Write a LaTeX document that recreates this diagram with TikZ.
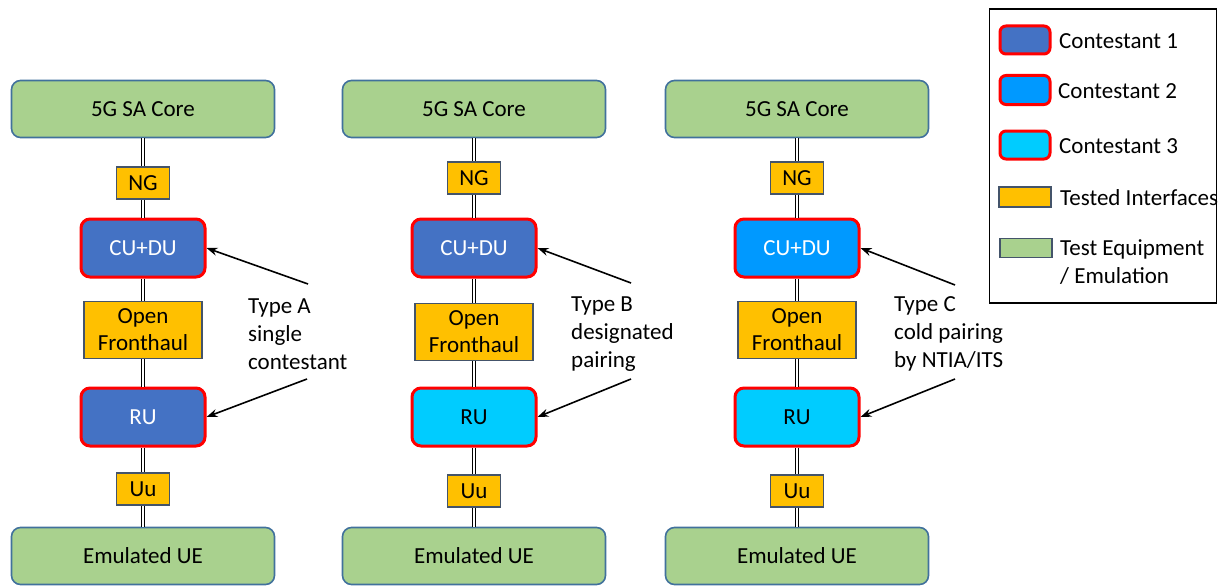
\documentclass[tikz,border=0pt]{standalone}
\usepackage{fontspec}
\setmainfont{Carlito}
\usetikzlibrary{arrows.meta}
\definecolor{eqgreen}{HTML}{A9D18E}
\definecolor{eqborder}{HTML}{41719C}
\definecolor{ifor}{HTML}{FFC000}
\definecolor{ifborder}{HTML}{44546A}
\definecolor{cone}{HTML}{4472C4}
\definecolor{ctwo}{HTML}{0099FF}
\definecolor{cthree}{HTML}{00CCFF}
\definecolor{cred}{HTML}{FF0000}
\tikzset{
  base/.style={inner sep=0pt, font=\fontsize{23}{27}\selectfont, align=center},
  equip/.style={base, draw=eqborder, fill=eqgreen, line width=1.6pt, rounded corners=9pt, minimum width=263pt, minimum height=57pt},
  iface/.style={base, draw=ifborder, fill=ifor, line width=1.6pt, minimum width=53pt, minimum height=32pt},
  ofh/.style={base, draw=ifborder, fill=ifor, line width=1.6pt, minimum width=118pt, minimum height=57pt, font=\fontsize{23}{27}\selectfont},
  contest/.style={base, draw=cred, line width=3pt, rounded corners=9pt, minimum width=124pt, minimum height=58pt},
  cA/.style={contest, fill=cone, text=white},
  cB/.style={contest, fill=ctwo, text=white},
  cC/.style={contest, fill=cthree, text=black},
  link/.style={draw=black, line width=1.4pt, double=white, double distance=1.1pt},
  pointer/.style={line width=1.6pt, -{Stealth[length=11pt,width=8pt]}},
  note/.style={base, align=left, anchor=west, font=\fontsize{23}{28}\selectfont},
  legtext/.style={base, align=left, anchor=west, font=\fontsize{23}{28}\selectfont},
}
\begin{document}
\begin{tikzpicture}[x=1pt,y=-1pt]
\useasboundingbox (0,0) rectangle (1218,586);
% ---------- Column A
\node[equip] (coreA) at (143,109) {5G SA Core};
\node[iface] (ngA) at (143,183) {NG};
\node[cA] (cuA) at (143,248) {CU+DU};
\node[ofh] (ofA) at (143,330) {Open\\Fronthaul};
\node[cA] (ruA) at (143,417) {RU};
\node[iface] (uuA) at (143,489) {Uu};
\node[equip] (ueA) at (143,556) {Emulated UE};
% ---------- Column B
\node[equip] (coreB) at (474,109) {5G SA Core};
\node[iface] (ngB) at (474,178) {NG};
\node[cA] (cuB) at (474,248) {CU+DU};
\node[ofh] (ofB) at (474,332) {Open\\Fronthaul};
\node[cC] (ruB) at (474,417) {RU};
\node[iface] (uuB) at (474,491) {Uu};
\node[equip] (ueB) at (474,556) {Emulated UE};
% ---------- Column C
\node[equip] (coreC) at (797,109) {5G SA Core};
\node[iface] (ngC) at (797,178) {NG};
\node[cB] (cuC) at (797,248) {CU+DU};
\node[ofh] (ofC) at (797,330) {Open\\Fronthaul};
\node[cC] (ruC) at (797,417) {RU};
\node[iface] (uuC) at (797,491) {Uu};
\node[equip] (ueC) at (797,556) {Emulated UE};
% ---------- links
\foreach \c in {A,B,C}{
  \draw[link] (core\c.south) -- (ng\c.north);
  \draw[link] (ng\c.south) -- (cu\c.north);
  \draw[link] (cu\c.south) -- (of\c.north);
  \draw[link] (of\c.south) -- (ru\c.north);
  \draw[link] (ru\c.south) -- (uu\c.north);
  \draw[link] (uu\c.south) -- (ue\c.north);
}
% ---------- annotations
\node[note] (noteA) at (248,334) {Type A\\single\\contestant};
\node[note] (noteB) at (571,334) {Type B\\designated\\pairing};
\node[note] (noteC) at (894,334) {Type C\\cold pairing\\by NTIA/ITS};
\coordinate (pA1) at (308,284);
\coordinate (pA2) at (307,379);
\coordinate (pB1) at (631,283);
\coordinate (pB2) at (631,379);
\coordinate (pC1) at (955,285);
\coordinate (pC2) at (955,379);
\draw[pointer] (pA1) -- (cuA.east);
\draw[pointer] (pA2) -- (ruA.east);
\draw[pointer] (pB1) -- (cuB.east);
\draw[pointer] (pB2) -- (ruB.east);
\draw[pointer] (pC1) -- (cuC.east);
\draw[pointer] (pC2) -- (ruC.east);
% ---------- legend
\node[draw=black, line width=1.6pt, inner sep=0pt, minimum width=227pt, minimum height=294pt] (legend) at (1103,156) {};
\node[contest, fill=cone, minimum width=50pt, minimum height=28pt, rounded corners=6pt] (l1) at (1025,40) {};
\node[contest, fill=ctwo, minimum width=50pt, minimum height=29pt, rounded corners=6pt] (l2) at (1025,90) {};
\node[contest, fill=cthree, minimum width=50pt, minimum height=28pt, rounded corners=6pt] (l3) at (1025,145) {};
\node[iface, minimum width=52pt, minimum height=20pt] (l4) at (1025,197) {};
\node[draw=ifborder, fill=eqgreen, line width=1.6pt, inner sep=0pt, minimum width=52pt, minimum height=19pt] (l5) at (1026,248) {};
\node[legtext] (t1) at (1059,41) {Contestant 1};
\node[legtext] (t2) at (1058,91) {Contestant 2};
\node[legtext] (t3) at (1059,146) {Contestant 3};
\node[legtext] (t4) at (1060,198) {Tested Interfaces};
\node[legtext] (t5) at (1060,262) {Test Equipment\\/ Emulation};
\end{tikzpicture}
\end{document}
